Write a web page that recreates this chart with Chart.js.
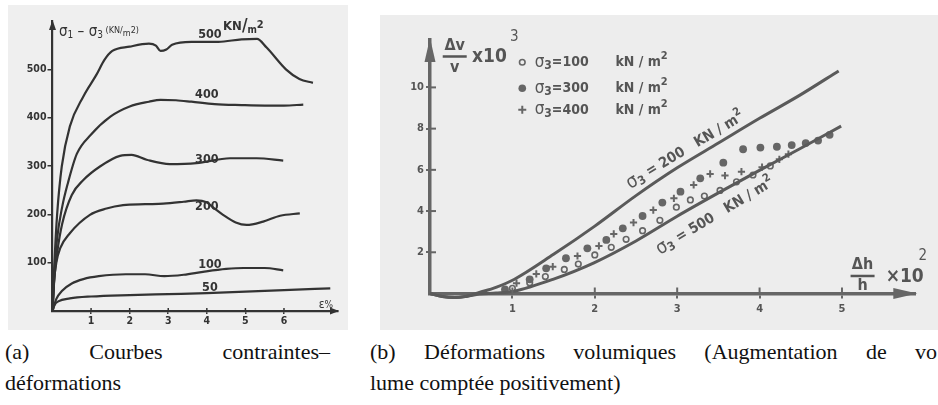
<!DOCTYPE html>
<html>
<head>
<meta charset="utf-8">
<script src="https://cdn.jsdelivr.net/npm/chart.js@4.4.1/dist/chart.umd.min.js"></script>
<style>
html,body{margin:0;padding:0;background:#fff;width:938px;height:405px;overflow:hidden;}
#ca{position:absolute;left:8px;top:5px;}
#cb{position:absolute;left:380px;top:15px;}
.cap{position:absolute;font-family:"Liberation Serif","Times New Roman",serif;font-size:22px;line-height:31px;color:#111;white-space:nowrap;}
.l1{display:flex;justify-content:space-between;}
</style>
</head>
<body>
<canvas id="ca" width="340" height="325"></canvas>
<canvas id="cb" width="558" height="315"></canvas>
<div class="cap" style="left:5px;top:336px;width:325px">
  <div class="l1"><span>(a)</span><span>Courbes</span><span>contraintes–</span></div>
  <div>déformations</div>
</div>
<div class="cap" style="left:370px;top:336px;width:567px">
  <div class="l1"><span>(b)</span><span>Déformations</span><span>volumiques</span><span>(Augmentation</span><span>de</span><span>vo</span></div>
  <div>lume comptée positivement)</div>
</div>
<script>
// (a) stress-strain curves, eps in %, sigma1-sigma3 in kN/m2
const epsTicks = [1, 2, 3, 4, 5, 6];
const sigTicks = [100, 200, 300, 400, 500];
const c500x = [0, 0.05, 0.12, 0.24, 0.45, 0.8, 1.14, 1.35, 1.55, 2.0, 2.5, 2.68, 2.8, 2.95, 3.1, 3.6, 4.3, 4.9, 5.3, 5.55, 6.05, 6.4, 6.75];
const c500y = [0, 100, 200, 299, 382, 444, 489, 520, 538, 547, 553, 549, 538, 541, 551, 557, 557, 562, 563, 545, 500, 480, 472];
const c400x = [0, 0.05, 0.12, 0.25, 0.4, 0.63, 1.0, 1.5, 2.0, 2.5, 2.8, 3.2, 3.6, 4.2, 4.9, 5.5, 6.0, 6.5];
const c400y = [0, 80, 150, 215, 265, 325, 365, 402, 423, 433, 437, 436, 433, 428, 426, 425, 425, 427];
const c300x = [0, 0.05, 0.12, 0.25, 0.5, 0.8, 1.23, 1.75, 2.05, 2.44, 3.04, 3.73, 4.6, 5.29, 5.98];
const c300y = [0, 70, 120, 180, 240, 271, 299, 321, 323, 313, 304, 306, 316, 316, 311];
const c200x = [0, 0.04, 0.1, 0.2, 0.45, 0.97, 1.4, 1.83, 2.4, 2.87, 3.4, 3.73, 3.99, 4.2, 4.42, 4.75, 5.03, 5.46, 5.9, 6.41];
const c200y = [0, 60, 100, 130, 161, 199, 212, 219, 221, 222, 226, 229, 225, 212, 199, 183, 178, 185, 197, 202];
const c100x = [0, 0.1, 0.25, 0.5, 0.8, 1.2, 1.9, 2.4, 2.9, 3.4, 3.9, 4.5, 4.95, 5.5, 5.98];
const c100y = [0, 25, 42, 57, 66, 72, 76, 76, 72, 75, 81, 87, 89, 89, 84];
const c50x = [0, 0.05, 0.15, 0.45, 1.0, 2.0, 3.0, 4.0, 5.0, 6.0, 7.2];
const c50y = [0, 12, 20, 26, 30, 33, 35, 37, 40, 43, 47];

// (b) volume change dv/v x10^3 against dh/h x10^2
const dhTicks = [1, 2, 3, 4, 5];
const dvTicks = [2, 4, 6, 8, 10];
const l200x = [0, 0.15, 0.3, 0.45, 0.6, 0.8, 1.02, 1.5, 2.0, 2.5, 3.0, 3.5, 4.0, 4.5, 4.96];
const l200y = [0, -0.15, -0.2, -0.13, 0.05, 0.3, 0.68, 1.9, 3.27, 4.75, 6.1, 7.3, 8.5, 9.65, 10.8];
const l500x = [0, 0.15, 0.3, 0.45, 0.6, 0.8, 1.02, 1.5, 1.99, 2.5, 3.0, 3.5, 4.02, 4.5, 4.99];
const l500y = [0, -0.15, -0.2, -0.13, -0.03, 0.02, 0.11, 0.7, 1.49, 2.55, 3.75, 4.88, 6.02, 7.05, 8.12];
const s100x = [1.0, 1.21, 1.40, 1.63, 1.80, 2.00, 2.20, 2.38, 2.58, 2.79, 2.99, 3.16, 3.33, 3.52, 3.72, 3.92, 4.13];
const s100y = [0.25, 0.52, 0.82, 1.17, 1.43, 1.87, 2.24, 2.63, 3.05, 3.55, 4.19, 4.54, 4.73, 5.0, 5.42, 5.75, 6.19];
const s300x = [0.91, 1.21, 1.41, 1.65, 1.91, 2.14, 2.34, 2.58, 2.82, 3.04, 3.28, 3.56, 3.80, 4.01, 4.21, 4.39, 4.56, 4.71, 4.85];
const s300y = [0.20, 0.69, 1.22, 1.71, 2.19, 2.60, 3.16, 3.76, 4.41, 4.94, 5.59, 6.35, 7.0, 7.08, 7.12, 7.2, 7.3, 7.42, 7.7];
const s400x = [1.05, 1.29, 1.49, 1.79, 2.05, 2.23, 2.47, 2.71, 2.96, 3.20, 3.40, 3.58, 3.78, 4.03, 4.24, 4.35];
const s400y = [0.50, 0.95, 1.30, 1.82, 2.31, 2.89, 3.44, 4.05, 4.62, 5.27, 5.8, 5.72, 5.91, 6.13, 6.51, 6.76];

const FAM = '"DejaVu Sans Condensed","Liberation Sans Narrow","DejaVu Sans",sans-serif';
function fnt(s, w) { return (w || 'bold') + ' ' + s + 'px ' + FAM; }
function pairs(xs, ys) { return xs.map((x, i) => ({x: x, y: ys[i]})); }

// text made of pieces of different size / offset (subscripts etc.)
function rich(ctx, px, py, parts, align, rot, color) {
  ctx.save();
  ctx.translate(px, py);
  if (rot) ctx.rotate(rot * Math.PI / 180);
  ctx.fillStyle = color;
  ctx.textBaseline = 'middle';
  ctx.textAlign = 'left';
  let w = 0;
  parts.forEach(p => { ctx.font = fnt(p.s, p.w); w += ctx.measureText(p.t).width; });
  let x = align === 'center' ? -w / 2 : 0;
  parts.forEach(p => {
    ctx.font = fnt(p.s, p.w);
    ctx.fillText(p.t, x, p.dy || 0);
    x += ctx.measureText(p.t).width;
  });
  ctx.restore();
}

function arrowHead(ctx, x, y, dir, len, half, color) {
  ctx.save();
  ctx.fillStyle = color;
  ctx.beginPath();
  if (dir === 'right') { ctx.moveTo(x, y); ctx.lineTo(x - len, y - half); ctx.lineTo(x - len, y + half); }
  else { ctx.moveTo(x, y); ctx.lineTo(x - half, y + len); ctx.lineTo(x + half, y + len); }
  ctx.closePath();
  ctx.fill();
  ctx.restore();
}

function bgPlugin(col) {
  return { id: 'bg', beforeDraw(c) { const g = c.ctx; g.save(); g.fillStyle = col; g.fillRect(0, 0, c.width, c.height); g.restore(); } };
}

// ---------- chart (a)
const inkA = '#333';
function curveA(xs, ys) {
  return { data: pairs(xs, ys), showLine: true, borderColor: inkA, borderWidth: 2.2, pointRadius: 0, cubicInterpolationMode: 'monotone' };
}
const labelsA = [
  {x: 4.08, y: 571, parts: [{t: '500', s: 12.5}], align: 'center'},
  {x: 4.42, y: 588, parts: [{t: 'KN', s: 13}, {t: '/', s: 17}, {t: 'm', s: 10, dy: 4}, {t: '2', s: 11, dy: -2}]},
  {x: 4.0, y: 447, parts: [{t: '400', s: 12.5}], align: 'center'},
  {x: 4.0, y: 313, parts: [{t: '300', s: 12.5}], align: 'center'},
  {x: 4.0, y: 215, parts: [{t: '200', s: 12.5}], align: 'center'},
  {x: 4.08, y: 95, parts: [{t: '100', s: 12.5}], align: 'center'},
  {x: 4.08, y: 48, parts: [{t: '50', s: 12.5}], align: 'center'},
  {x: 6.9, y: 12, parts: [{t: 'ε', s: 12, w: 'normal'}, {t: '%', s: 10, w: 'normal'}]},
  {x: 0.17, y: 578, parts: [{t: 'σ', s: 15, w: 'normal'}, {t: '1', s: 10, w: 'normal', dy: 4}, {t: ' – σ', s: 15, w: 'normal'},
    {t: '3', s: 10, w: 'normal', dy: 4}, {t: ' (KN/', s: 9, w: 'normal', dy: -1}, {t: 'm', s: 9, w: 'normal', dy: 2}, {t: '2)', s: 9, w: 'normal', dy: -1}]}
];
const decoA = {
  id: 'decoA',
  afterDraw(c) {
    const g = c.ctx, xs = c.scales.x, ys = c.scales.y;
    arrowHead(g, xs.right + 1, ys.bottom, 'right', 9, 3.5, inkA);
    arrowHead(g, xs.left, ys.top - 1, 'up', 10, 3.5, inkA);
    g.save(); g.strokeStyle = inkA; g.lineWidth = 1.5;
    xs.ticks.forEach(t => { const p = xs.getPixelForValue(t.value); g.beginPath(); g.moveTo(p, ys.bottom); g.lineTo(p, ys.bottom - 3); g.stroke(); });
    g.restore();
    labelsA.forEach(l => rich(g, xs.getPixelForValue(l.x), ys.getPixelForValue(l.y), l.parts, l.align, 0, '#333'));
  }
};
new Chart(document.getElementById('ca'), {
  type: 'scatter',
  data: { datasets: [curveA(c500x, c500y), curveA(c400x, c400y), curveA(c300x, c300y), curveA(c200x, c200y), curveA(c100x, c100y), curveA(c50x, c50y)] },
  options: {
    responsive: false, animation: false, devicePixelRatio: 1,
    layout: { padding: { top: 16, right: 10, left: 0, bottom: 0 } },
    plugins: { legend: { display: false }, tooltip: { enabled: false } },
    scales: {
      x: {
        type: 'linear', min: 0, max: 7.4,
        afterBuildTicks: s => { s.ticks = epsTicks.map(v => ({value: v})); },
        afterFit: s => { s.height = 19; },
        grid: { drawOnChartArea: false, drawTicks: true, tickLength: 3, color: inkA, lineWidth: 1.5 },
        border: { display: true, color: inkA, width: 2.2 },
        ticks: { color: '#333', font: { family: FAM, size: 10.5, weight: 'bold' }, padding: 1, maxRotation: 0, autoSkip: false }
      },
      y: {
        type: 'linear', min: 0, max: 600,
        afterBuildTicks: s => { s.ticks = sigTicks.map(v => ({value: v})); },
        afterFit: s => { s.width = 44.5; },
        grid: { drawOnChartArea: false, drawTicks: true, tickLength: 5, color: inkA, lineWidth: 1.5 },
        border: { display: true, color: inkA, width: 2.2 },
        ticks: { color: '#333', font: { family: FAM, size: 10.5, weight: 'bold' }, padding: 1, autoSkip: false }
      }
    }
  },
  plugins: [bgPlugin('#efefef'), decoA]
});

// ---------- chart (b)
const inkB = '#5a5a5a';
function lineB(xs, ys) {
  return { data: pairs(xs, ys), showLine: true, borderColor: inkB, borderWidth: 3, pointRadius: 0, clip: 10, cubicInterpolationMode: 'monotone' };
}
const rowsB = [11.22, 9.96, 8.91];
const legendB = [
  {x: 1.27, y: rowsB[0], parts: [{t: 'σ', s: 17, w: 'normal'}, {t: '3', s: 12, dy: 4}, {t: '=100', s: 14}]},
  {x: 1.27, y: rowsB[1], parts: [{t: 'σ', s: 17, w: 'normal'}, {t: '3', s: 12, dy: 4}, {t: '=300', s: 14}]},
  {x: 1.27, y: rowsB[2], parts: [{t: 'σ', s: 17, w: 'normal'}, {t: '3', s: 12, dy: 4}, {t: '=400', s: 14}]},
  {x: 2.25, y: rowsB[0], parts: [{t: 'kN / m', s: 14}, {t: '2', s: 11, dy: -6}]},
  {x: 2.25, y: rowsB[1], parts: [{t: 'kN / m', s: 14}, {t: '2', s: 11, dy: -6}]},
  {x: 2.25, y: rowsB[2], parts: [{t: 'kN / m', s: 14}, {t: '2', s: 11, dy: -6}]},
  {x: 0.30, y: 12.0, parts: [{t: 'Δv', s: 16}], align: 'center'},
  {x: 0.30, y: 10.95, parts: [{t: 'v', s: 16}], align: 'center'},
  {x: 0.51, y: 11.45, parts: [{t: 'x10', s: 19}]},
  {x: 0.97, y: 12.45, parts: [{t: '3', s: 15, w: 'normal'}]},
  {x: 5.25, y: 1.38, parts: [{t: 'Δh', s: 16}], align: 'center'},
  {x: 5.25, y: 0.36, parts: [{t: 'h', s: 16}], align: 'center'},
  {x: 5.53, y: 0.8, parts: [{t: '×10', s: 19}]},
  {x: 5.93, y: 1.82, parts: [{t: '2', s: 15, w: 'normal'}]},
  {x: 3.1, y: 6.95, rot: -31, align: 'center', parts: [{t: 'σ', s: 19, w: 'normal'}, {t: '3', s: 12, dy: 4}, {t: ' = 200   KN / m', s: 14.5}, {t: '2', s: 11, dy: -6}]},
  {x: 3.46, y: 3.75, rot: -31, align: 'center', parts: [{t: 'σ', s: 19, w: 'normal'}, {t: '3', s: 12, dy: 4}, {t: ' = 500   KN / m', s: 14.5}, {t: '2', s: 11, dy: -6}]}
];
const decoB = {
  id: 'decoB',
  afterDraw(c) {
    const g = c.ctx, xs = c.scales.x, ys = c.scales.y;
    arrowHead(g, xs.right + 2, ys.bottom, 'right', 24, 5.5, '#666');
    arrowHead(g, xs.left, ys.top - 2, 'up', 24, 5.5, '#666');
    g.save(); g.strokeStyle = '#666'; g.lineWidth = 2;
    xs.ticks.forEach(t => { const p = xs.getPixelForValue(t.value); g.beginPath(); g.moveTo(p, ys.bottom); g.lineTo(p, ys.bottom - 6); g.stroke(); });
    ys.ticks.forEach(t => { const p = ys.getPixelForValue(t.value); g.beginPath(); g.moveTo(xs.left, p); g.lineTo(xs.left + 6, p); g.stroke(); });
    // legend symbols
    const lx = xs.getPixelForValue(1.12);
    g.fillStyle = '#666'; g.strokeStyle = '#666'; g.lineWidth = 1.6;
    g.beginPath(); g.arc(lx, ys.getPixelForValue(rowsB[0]), 2.8, 0, 2 * Math.PI); g.stroke();
    g.beginPath(); g.arc(lx, ys.getPixelForValue(rowsB[1]), 3.8, 0, 2 * Math.PI); g.fill();
    const py = ys.getPixelForValue(rowsB[2]);
    g.lineWidth = 2;
    g.beginPath(); g.moveTo(lx - 4, py); g.lineTo(lx + 4, py); g.moveTo(lx, py - 4); g.lineTo(lx, py + 4); g.stroke();
    // fraction bars
    g.lineWidth = 2.5; g.strokeStyle = '#555';
    let bx = xs.getPixelForValue(0.30), by = ys.getPixelForValue(11.5);
    g.beginPath(); g.moveTo(bx - 12, by); g.lineTo(bx + 12, by); g.stroke();
    bx = xs.getPixelForValue(5.25); by = ys.getPixelForValue(0.85);
    g.beginPath(); g.moveTo(bx - 12, by); g.lineTo(bx + 12, by); g.stroke();
    g.restore();
    legendB.forEach(l => rich(g, xs.getPixelForValue(l.x), ys.getPixelForValue(l.y), l.parts, l.align, l.rot, '#555'));
  }
};
new Chart(document.getElementById('cb'), {
  type: 'scatter',
  data: {
    datasets: [
      lineB(l200x, l200y),
      lineB(l500x, l500y),
      { data: pairs(s100x, s100y), pointStyle: 'circle', pointRadius: 2.8, borderWidth: 1.6, borderColor: '#666', backgroundColor: 'rgba(0,0,0,0)' },
      { data: pairs(s300x, s300y), pointStyle: 'circle', pointRadius: 3.9, borderWidth: 0, borderColor: '#666', backgroundColor: '#666' },
      { data: pairs(s400x, s400y), pointStyle: 'cross', pointRadius: 3.6, borderWidth: 2, borderColor: '#666' }
    ]
  },
  options: {
    responsive: false, animation: false, devicePixelRatio: 1,
    layout: { padding: { top: 25, right: 22.7, left: 0, bottom: 0 } },
    plugins: { legend: { display: false }, tooltip: { enabled: false } },
    scales: {
      x: {
        type: 'linear', min: 0, max: 5.89,
        afterBuildTicks: s => { s.ticks = dhTicks.map(v => ({value: v})); },
        afterFit: s => { s.height = 36.5; },
        grid: { drawOnChartArea: false, drawTicks: true, tickLength: 5, color: '#666', lineWidth: 2 },
        border: { display: true, color: '#666', width: 3.5 },
        ticks: { color: '#555', font: { family: FAM, size: 11, weight: 'bold' }, padding: 4, maxRotation: 0, autoSkip: false }
      },
      y: {
        type: 'linear', min: 0, max: 12.3,
        afterBuildTicks: s => { s.ticks = dvTicks.map(v => ({value: v})); },
        afterFit: s => { s.width = 50; },
        grid: { drawOnChartArea: false, drawTicks: true, tickLength: 4, color: '#666', lineWidth: 2 },
        border: { display: true, color: '#666', width: 3.5 },
        ticks: { color: '#555', font: { family: FAM, size: 11, weight: 'bold' }, padding: 2, autoSkip: false }
      }
    }
  },
  plugins: [bgPlugin('#ededed'), decoB]
});
</script>
</body>
</html>
